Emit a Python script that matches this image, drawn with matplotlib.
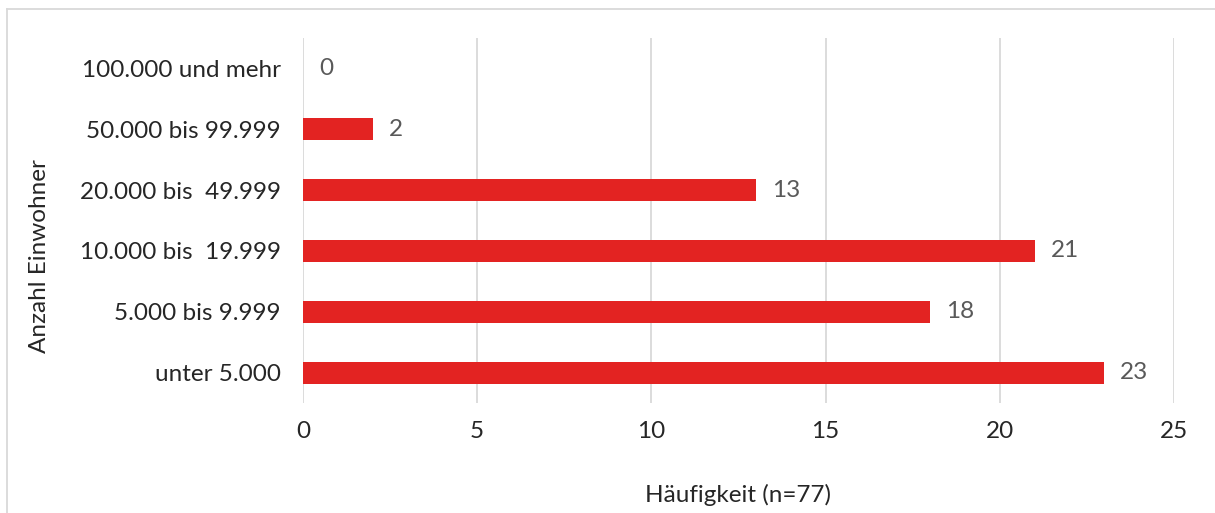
import matplotlib

matplotlib.use("Agg")
import matplotlib.pyplot as plt
from matplotlib.lines import Line2D

categories = [
    "unter 5.000",
    "5.000 bis 9.999",
    "10.000 bis  19.999",
    "20.000 bis  49.999",
    "50.000 bis 99.999",
    "100.000 und mehr",
]
counts = [23, 18, 21, 13, 2, 0]
xticks = [0, 5, 10, 15, 20, 25]

plt.rcParams["font.family"] = ["Lato", "DejaVu Sans"]

W, H = 1215, 513
fig = plt.figure(figsize=(W / 100, H / 100), dpi=100)
ax = fig.add_axes([303 / W, 1 - 403 / H, (1174 - 303) / W, (403 - 38) / H])

ypos = list(range(len(categories)))
ax.barh(ypos, counts, height=0.36, color="#E32322", zorder=3)
for y, v in zip(ypos, counts):
    ax.annotate(str(v), (v, y), xytext=(11.5, 0), textcoords="offset points",
                ha="left", va="center", fontsize=17.5, color="#595959")

ax.set_xlim(0, 25)
ax.set_ylim(-0.5, len(categories) - 0.5)
ax.set_xticks(xticks)
ax.set_yticks(ypos)
ax.set_yticklabels(categories)
ax.tick_params(axis="both", length=0, labelsize=17.5, labelcolor="#262626")
ax.tick_params(axis="y", pad=16)
ax.tick_params(axis="x", pad=13)
ax.grid(axis="x", color="#D9D9D9", lw=1.3, zorder=0)
for s in ax.spines.values():
    s.set_visible(False)

fig.text(738 / W, 1 - 495 / H, "Häufigkeit (n=77)", ha="center", va="center",
         fontsize=17.5, color="#262626")
fig.text(40 / W, 1 - 256 / H, "Anzahl Einwohner", ha="center", va="center",
         rotation=90, fontsize=17.5, color="#262626")

# outer chart frame (top and left edges visible)
fig.add_artist(Line2D([7 / W, 1], [1 - 9 / H, 1 - 9 / H], color="#D9D9D9", lw=1.3))
fig.add_artist(Line2D([7 / W, 7 / W], [0, 1 - 9 / H], color="#D9D9D9", lw=1.3))

fig.savefig("out.png", dpi=100)
